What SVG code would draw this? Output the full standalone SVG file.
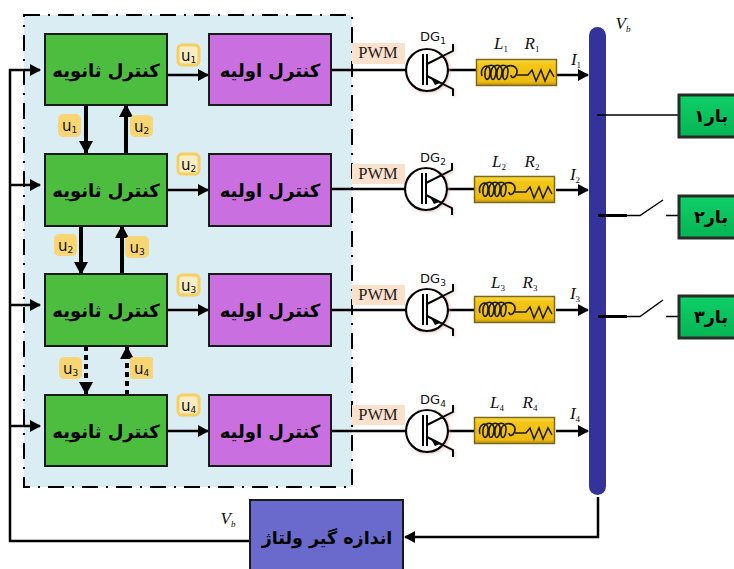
<svg xmlns="http://www.w3.org/2000/svg" xmlns:xlink="http://www.w3.org/1999/xlink" width="734" height="569" viewBox="0 0 734 569">
<style>
.gr{fill:#4cbd3f;stroke:#1a1a1a;stroke-width:2}
.pu{fill:#c96fe0;stroke:#1a1a1a;stroke-width:2}
.ar{font-family:"DejaVu Sans",sans-serif;font-weight:bold;font-size:18px;fill:#000;text-anchor:middle;direction:rtl}
.me{font-family:"DejaVu Sans",sans-serif;font-weight:bold;font-size:17.500px;fill:#000;text-anchor:middle;direction:rtl}
.bd{fill:#f8ecc4;stroke:#f6cf63;stroke-width:3}
.bf{fill:#f7d672;stroke:#f7d57a;stroke-width:2}
.ul{font-family:"DejaVu Sans",sans-serif;font-size:15px;fill:#111;text-anchor:middle}
.sub{font-size:9px}
.it{font-family:"Liberation Serif",serif;font-style:italic;font-size:17px;fill:#111;text-anchor:middle}
.pwm{font-family:"Liberation Serif",serif;font-size:16.500px;fill:#222;text-anchor:middle}
.dg{font-family:"DejaVu Sans",sans-serif;font-size:13px;fill:#111;text-anchor:middle}
.ln{fill:none;stroke:#000;stroke-width:2.500}
.hv{fill:none;stroke:#000;stroke-width:4}
.ds{fill:none;stroke:#000;stroke-width:4;stroke-dasharray:5 4}
.load{fill:url(#lg);stroke:#2a2a2a;stroke-width:3}
.la{font-family:"DejaVu Sans",sans-serif;font-weight:bold;font-size:17.500px;fill:#000;text-anchor:middle;direction:rtl}
</style>
<defs>
<linearGradient id="gold" x1="0" y1="0" x2="0" y2="1"><stop offset="0" stop-color="#f8dc4a"/><stop offset="0.2" stop-color="#f3c616"/><stop offset="0.85" stop-color="#eebb10"/><stop offset="1" stop-color="#b8920e"/></linearGradient>
<linearGradient id="lg" x1="0" y1="0" x2="0" y2="1"><stop offset="0" stop-color="#0fd068"/><stop offset="1" stop-color="#05b454"/></linearGradient>
<marker id="a" markerUnits="userSpaceOnUse" markerWidth="12" markerHeight="12" refX="10" refY="6" orient="auto"><path d="M0 0L11 6L0 12z" fill="#000"/></marker>
<marker id="b" markerUnits="userSpaceOnUse" markerWidth="14" markerHeight="14" refX="12" refY="7" orient="auto"><path d="M0 0L13 7L0 14z" fill="#000"/></marker>
<filter id="gl" x="-20%" y="-20%" width="140%" height="140%"><feDropShadow dx="1" dy="1" stdDeviation="1.500" flood-color="#d9a0a0" flood-opacity="0.6"/></filter>
<g id="igbt" filter="url(#gl)">
<circle cx="0" cy="0" r="21" fill="#fff" stroke="#000" stroke-width="2.200"/>
<path d="M-4-16V15M0-16V15" fill="none" stroke="#000" stroke-width="2"/>
<path d="M0-6L26-19V-26M0 6L26 19V26" fill="none" stroke="#000" stroke-width="2"/>
<path d="M13 13L4 8L8 15z" fill="#000"/>
</g>
<g id="rl">
<rect x="0.500" y="0.500" width="80" height="26" fill="url(#gold)" stroke="#7d6a1f" stroke-width="1.500"/>
<path d="M6 17C3 7 14 3 14 12C14 23 8 23 9 13C10 4 21 4 20 13C19 23 14 23 15 13C16 4 27 4 26 13C25 23 20 23 21 13C22 4 33 4 32 13C31 23 26 23 27 13C28 4 42 5 41 13C40 19 35 20 35 16" fill="none" stroke="#1a1a1a" stroke-width="1.600"/>
<path d="M41 16H52L56 11L60 22L65 11L69 22L74 11L78 18" fill="none" stroke="#1a1a1a" stroke-width="1.500"/>
</g>
</defs>

<g id="panel"><rect x="24" y="15" width="328" height="472" fill="#daedf3" stroke="#000" stroke-width="2" stroke-dasharray="16 8 2 8"/></g>

<g id="connectors">
<path class="ln" d="M250 541H10V70H40" marker-end="url(#a)"/>
<path class="ln" d="M10 185H40" marker-end="url(#a)"/>
<path class="ln" d="M10 305H40" marker-end="url(#a)"/>
<path class="ln" d="M10 426H40" marker-end="url(#a)"/>
<path class="ln" d="M167 75H208" marker-end="url(#a)"/>
<path class="ln" d="M167 190H208" marker-end="url(#a)"/>
<path class="ln" d="M167 310H208" marker-end="url(#a)"/>
<path class="ln" d="M167 431H208" marker-end="url(#a)"/>
<path class="hv" d="M86 104V153" marker-end="url(#b)"/>
<path class="hv" d="M126 153V105" marker-end="url(#b)"/>
<path class="hv" d="M81 225V274" marker-end="url(#b)"/>
<path class="hv" d="M122 274V226" marker-end="url(#b)"/>
<path class="ds" d="M86 346V394" marker-end="url(#b)"/>
<path class="ds" d="M127 395V347" marker-end="url(#b)"/>
<path class="ln" d="M331 70H406M448 70H476"/>
<path class="ln" d="M331 189H405M447 189H474"/>
<path class="ln" d="M331 310H406M448 310H474"/>
<path class="ln" d="M331 431H406M448 431H474"/>
<path class="ln" d="M557 75H588" marker-end="url(#a)"/>
<path class="ln" d="M556 190H588" marker-end="url(#a)"/>
<path class="ln" d="M556 310H588" marker-end="url(#a)"/>
<path class="ln" d="M556 431H588" marker-end="url(#a)"/>
<path class="ln" d="M598 497V537H405" marker-end="url(#a)"/>
</g>

<g id="bus"><rect x="589" y="27" width="17" height="468" rx="8.500" fill="#333399"/></g>
<g id="load-lines">
<path d="M597 115H678" fill="none" stroke="#000" stroke-width="1.500"/>
<path d="M598 215.500H627" fill="none" stroke="#000" stroke-width="3"/>
<path d="M627 215.500H640L663 200M666 215.500H678" fill="none" stroke="#000" stroke-width="1.500"/>
<path d="M598 316.500H627" fill="none" stroke="#000" stroke-width="3"/>
<path d="M627 316.500H640L663 300M666 316.500H678" fill="none" stroke="#000" stroke-width="1.500"/>
</g>

<g id="sec1"><rect class="gr" x="45" y="34" width="122" height="71"/><text class="ar" x="106" y="77">کنترل ثانویه</text></g>
<g id="sec2"><rect class="gr" x="45" y="154" width="122" height="72"/><text class="ar" x="106" y="197">کنترل ثانویه</text></g>
<g id="sec3"><rect class="gr" x="45" y="274" width="122" height="72"/><text class="ar" x="106" y="317">کنترل ثانویه</text></g>
<g id="sec4"><rect class="gr" x="45" y="395" width="122" height="71"/><text class="ar" x="106" y="438">کنترل ثانویه</text></g>
<g id="pri1"><rect class="pu" x="209" y="34" width="122" height="71"/><text class="ar" x="270" y="77">کنترل اولیه</text></g>
<g id="pri2"><rect class="pu" x="209" y="154" width="122" height="72"/><text class="ar" x="270" y="197">کنترل اولیه</text></g>
<g id="pri3"><rect class="pu" x="209" y="274" width="122" height="72"/><text class="ar" x="270" y="317">کنترل اولیه</text></g>
<g id="pri4"><rect class="pu" x="209" y="395" width="122" height="71"/><text class="ar" x="270" y="438">کنترل اولیه</text></g>

<g id="badges">
<rect class="bd" x="178" y="45" width="21" height="20" rx="4"/><text class="ul" x="188.500" y="61">u<tspan class="sub" dy="2">1</tspan></text>
<rect class="bd" x="178" y="154" width="21" height="20" rx="4"/><text class="ul" x="188.500" y="170">u<tspan class="sub" dy="2">2</tspan></text>
<rect class="bd" x="178" y="275" width="21" height="20" rx="4"/><text class="ul" x="188.500" y="291">u<tspan class="sub" dy="2">3</tspan></text>
<rect class="bd" x="178" y="395" width="21" height="20" rx="4"/><text class="ul" x="188.500" y="411">u<tspan class="sub" dy="2">4</tspan></text>
<rect class="bf" x="59" y="115" width="21" height="21" rx="4"/><text class="ul" x="69.500" y="131">u<tspan class="sub" dy="2">1</tspan></text>
<rect class="bf" x="131" y="116" width="21" height="20" rx="4"/><text class="ul" x="141.500" y="132">u<tspan class="sub" dy="2">2</tspan></text>
<rect class="bf" x="55" y="235" width="21" height="20" rx="4"/><text class="ul" x="65.500" y="251">u<tspan class="sub" dy="2">2</tspan></text>
<rect class="bf" x="126" y="237" width="22" height="20" rx="4"/><text class="ul" x="137" y="253">u<tspan class="sub" dy="2">3</tspan></text>
<rect class="bf" x="60" y="358" width="21" height="20" rx="4"/><text class="ul" x="70.500" y="374">u<tspan class="sub" dy="2">3</tspan></text>
<rect class="bf" x="131" y="358" width="21" height="20" rx="2"/><text class="ul" x="141.500" y="374">u<tspan class="sub" dy="2">4</tspan></text>
</g>

<g id="pwm">
<rect x="352" y="43" width="53" height="21" fill="#fbe0cc"/><text class="pwm" x="378" y="58">PWM</text>
<rect x="352" y="164" width="53" height="20" fill="#fbe0cc"/><text class="pwm" x="378" y="179">PWM</text>
<rect x="352" y="285" width="53" height="20" fill="#fbe0cc"/><text class="pwm" x="378" y="300">PWM</text>
<rect x="352" y="405" width="53" height="20" fill="#fbe0cc"/><text class="pwm" x="378" y="420">PWM</text>
</g>

<g id="dg1"><use xlink:href="#igbt" href="#igbt" x="427" y="70"/><text class="dg" x="433" y="41">DG<tspan class="sub" dy="3">1</tspan></text></g>
<g id="dg2"><use xlink:href="#igbt" href="#igbt" x="426" y="189"/><text class="dg" x="433" y="162">DG<tspan class="sub" dy="3">2</tspan></text></g>
<g id="dg3"><use xlink:href="#igbt" href="#igbt" x="427" y="310"/><text class="dg" x="433" y="283">DG<tspan class="sub" dy="3">3</tspan></text></g>
<g id="dg4"><use xlink:href="#igbt" href="#igbt" x="427" y="431"/><text class="dg" x="433" y="404">DG<tspan class="sub" dy="3">4</tspan></text></g>

<g id="rl1"><use xlink:href="#rl" href="#rl" x="476" y="59"/><text class="it" x="501" y="49">L<tspan class="sub" dy="3" font-style="normal">1</tspan></text><text class="it" x="532" y="49">R<tspan class="sub" dy="3" font-style="normal">1</tspan></text><text class="it" x="576" y="65">I<tspan class="sub" dy="3" font-style="normal">1</tspan></text></g>
<g id="rl2"><use xlink:href="#rl" href="#rl" x="474" y="176"/><text class="it" x="499" y="167">L<tspan class="sub" dy="3" font-style="normal">2</tspan></text><text class="it" x="532" y="167">R<tspan class="sub" dy="3" font-style="normal">2</tspan></text><text class="it" x="575" y="180">I<tspan class="sub" dy="3" font-style="normal">2</tspan></text></g>
<g id="rl3"><use xlink:href="#rl" href="#rl" x="474" y="296"/><text class="it" x="498" y="288">L<tspan class="sub" dy="3" font-style="normal">3</tspan></text><text class="it" x="530" y="288">R<tspan class="sub" dy="3" font-style="normal">3</tspan></text><text class="it" x="575" y="299">I<tspan class="sub" dy="3" font-style="normal">3</tspan></text></g>
<g id="rl4"><use xlink:href="#rl" href="#rl" x="474" y="417"/><text class="it" x="497" y="408">L<tspan class="sub" dy="3" font-style="normal">4</tspan></text><text class="it" x="530" y="408">R<tspan class="sub" dy="3" font-style="normal">4</tspan></text><text class="it" x="575" y="419">I<tspan class="sub" dy="3" font-style="normal">4</tspan></text></g>

<g id="vb-labels"><text class="it" x="623" y="29">V<tspan class="sub" dy="3">b</tspan></text><text class="it" x="228" y="524">V<tspan class="sub" dy="3">b</tspan></text></g>

<g id="load1"><rect class="load" x="679" y="95" width="70" height="42"/><text class="la" x="711" y="122">بار۱</text></g>
<g id="load2"><rect class="load" x="679" y="196" width="70" height="42"/><text class="la" x="711" y="223">بار۲</text></g>
<g id="load3"><rect class="load" x="679" y="296" width="70" height="42"/><text class="la" x="711" y="323">بار۳</text></g>

<g id="meter"><rect x="250" y="500" width="153" height="80" fill="#6a6acd" stroke="#1a1a1a" stroke-width="2"/><text class="me" x="327" y="544">اندازه گیر ولتاژ</text></g>
</svg>
